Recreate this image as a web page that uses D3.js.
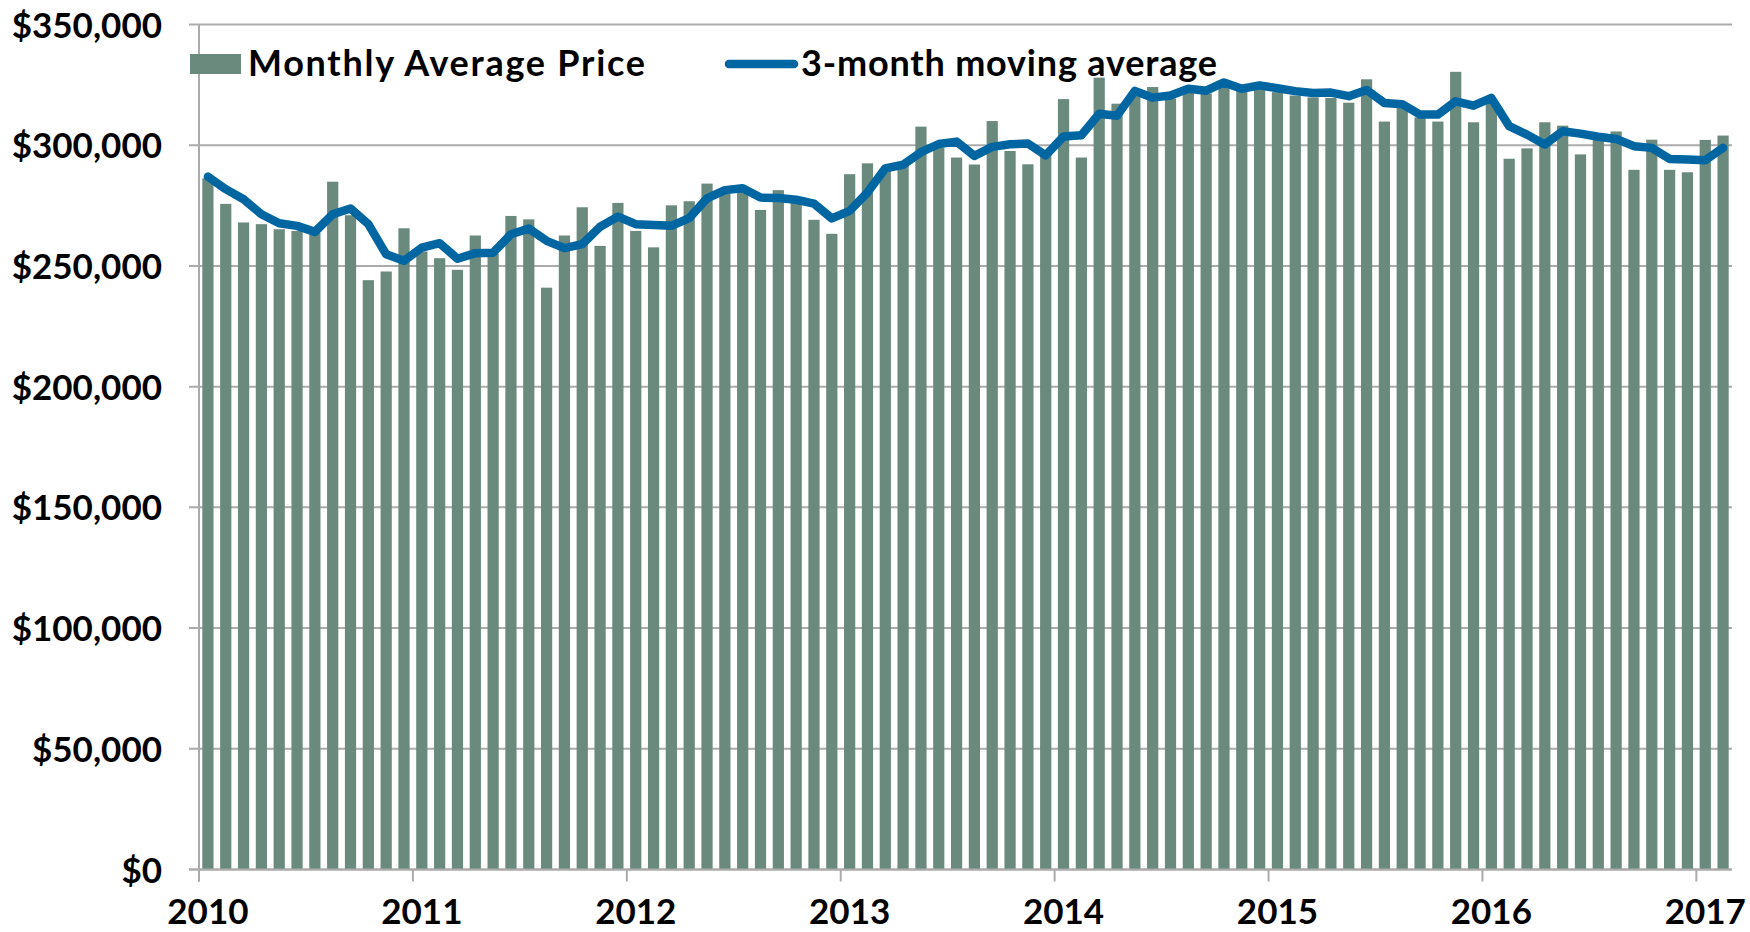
<!DOCTYPE html>
<html>
<head>
<meta charset="utf-8">
<script src="https://cdn.jsdelivr.net/npm/d3@7"></script>
<style>
  body { margin: 0; background: #fff; }
  text { font-family: "Lato", "DejaVu Sans", sans-serif; font-weight: 700; fill: #000; }
</style>
</head>
<body>
<svg id="chart" width="1750" height="932"></svg>
<script>
// monthly values, Jan 2010 .. Feb 2017
const months = d3.timeMonths(new Date(2010, 0, 1), new Date(2017, 2, 1));

const monthlyPrice = [
  286300, 275700, 268000, 267300, 265200, 264500, 263800, 284900, 271000, 244100, 247700, 265600,
  256000, 253200, 248400, 262600, 255000, 270700, 269300, 241000, 262600, 274300, 258300, 276100,
  264500, 257700, 275100, 276800, 284100, 280000, 281500, 273200, 281400, 277500, 269100, 263300,
  288000, 292500, 290000, 291400, 307700, 299000, 294900, 292000, 310000, 297600, 292100, 297000,
  319100, 294900, 328000, 317200, 322000, 324100, 319400, 323500, 321400, 326500, 324400, 325300,
  322000, 320600, 319800, 319600, 317600, 327300, 309800, 315400, 311500, 309800, 330400, 309500,
  318500, 294400, 298700, 309500, 308100, 296200, 302300, 305700, 289800, 302300, 289800, 288800,
  302200, 304000
];

const movingAvg = [
  287000, 281800, 277600, 271400, 267700, 266600, 264100, 271400, 273800, 267300, 254800, 252100,
  257600, 259400, 253000, 255300, 255500, 263100, 265500, 260400, 257400, 259000, 266200, 270400,
  267300, 267000, 266600, 269800, 278000, 281400, 282200, 278300, 278100, 277400, 275800, 269700,
  272800, 280400, 290400, 291900, 297100, 300500, 301500, 295600, 299300, 300400, 300700, 295800,
  303600, 304100, 313000, 312200, 322500, 319700, 320600, 323400, 322600, 326000, 323400, 324800,
  323600, 322400, 321600, 321800, 320300, 322900, 317500, 317000, 312700, 312700, 318200, 316400,
  319600, 307900, 304400, 300300, 305800, 304800, 303500, 302600, 299600, 298900, 294300, 294100,
  293800, 298900
];

const yTicks = [0, 50000, 100000, 150000, 200000, 250000, 300000, 350000];
const yearStarts = months.filter(d => d.getMonth() === 0);
const seriesNames = ["Monthly Average Price", "3-month moving average"];

const barColor = "#6b8a7e";
const lineColor = "#0066a1";
const gridColor = "#ababab";

const svg = d3.select("#chart");
const plotLeft = 199, plotRight = 1732, plotTop = 24.5, plotBottom = 869.5;

const x = d3.scaleBand().domain(months).range([plotLeft, plotRight]);
const y = d3.scaleLinear().domain([0, 350000]).range([plotBottom, plotTop]);
const barW = x.bandwidth() * 0.63;

// gridlines
svg.append("g")
  .selectAll("line")
  .data(yTicks)
  .join("line")
  .attr("x1", plotLeft - 10)
  .attr("x2", plotRight)
  .attr("y1", d => y(d))
  .attr("y2", d => y(d))
  .attr("stroke", gridColor)
  .attr("stroke-width", 2);

// y axis labels
const yAxis = svg.append("g")
  .attr("transform", `translate(${plotLeft - 10},0)`)
  .call(d3.axisLeft(y).tickValues(yTicks).tickSize(0).tickPadding(27).tickFormat(d3.format("$,")));
yAxis.select(".domain").remove();
yAxis.selectAll("text").style("font-size", "35px").attr("dy", "0.36em");

// bars
svg.append("g")
  .selectAll("rect")
  .data(monthlyPrice)
  .join("rect")
  .attr("x", (d, i) => x(months[i]) + (x.bandwidth() - barW) / 2)
  .attr("y", d => y(d))
  .attr("width", barW)
  .attr("height", d => y(0) - y(d))
  .attr("fill", barColor);

// vertical axis line
svg.append("line")
  .attr("x1", plotLeft).attr("x2", plotLeft)
  .attr("y1", plotTop).attr("y2", plotBottom + 12)
  .attr("stroke", gridColor).attr("stroke-width", 2);

// x axis
svg.append("line")
  .attr("x1", plotLeft - 10).attr("x2", plotRight)
  .attr("y1", plotBottom).attr("y2", plotBottom)
  .attr("stroke", gridColor).attr("stroke-width", 2);

svg.append("g")
  .selectAll("line")
  .data(yearStarts)
  .join("line")
  .attr("x1", d => x(d)).attr("x2", d => x(d))
  .attr("y1", plotBottom).attr("y2", plotBottom + 12)
  .attr("stroke", gridColor).attr("stroke-width", 2);

const xAxis = svg.append("g")
  .attr("transform", `translate(0,${plotBottom})`)
  .call(d3.axisBottom(x).tickValues(yearStarts).tickSize(0).tickPadding(30).tickFormat(d3.timeFormat("%Y")));
xAxis.select(".domain").remove();
xAxis.selectAll("text").style("font-size", "35px");

// moving average line
const line = d3.line()
  .x((d, i) => x(months[i]) + x.bandwidth() / 2)
  .y(d => y(d));

svg.append("path")
  .datum(movingAvg)
  .attr("d", line)
  .attr("fill", "none")
  .attr("stroke", lineColor)
  .attr("stroke-width", 8.5)
  .attr("stroke-linejoin", "round")
  .attr("stroke-linecap", "round");

// legend
const legend = svg.append("g");
legend.append("rect")
  .attr("x", 190).attr("y", 54)
  .attr("width", 51).attr("height", 20)
  .attr("fill", barColor);
legend.append("text")
  .attr("x", 248).attr("y", 76)
  .attr("textLength", 397)
  .style("font-size", "36px")
  .text(seriesNames[0]);
legend.append("line")
  .attr("x1", 729).attr("x2", 794)
  .attr("y1", 64).attr("y2", 64)
  .attr("stroke", lineColor)
  .attr("stroke-width", 8.5)
  .attr("stroke-linecap", "round");
legend.append("text")
  .attr("x", 801).attr("y", 76)
  .attr("textLength", 416)
  .style("font-size", "36px")
  .text(seriesNames[1]);
</script>
</body>
</html>
